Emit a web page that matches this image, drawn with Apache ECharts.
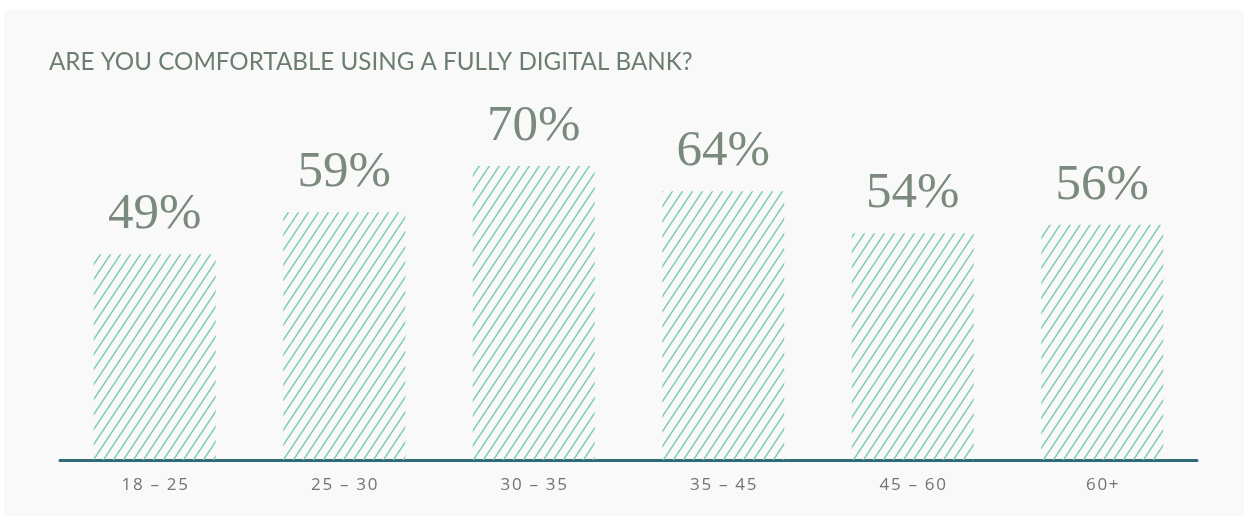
<!DOCTYPE html>
<html>
<head>
<meta charset="utf-8">
<script src="https://cdn.jsdelivr.net/npm/echarts@6/dist/echarts.min.js"></script>
<style>
  html, body { margin: 0; padding: 0; background: #ffffff; }
  #chart { width: 1249px; height: 516px; }
</style>
</head>
<body>
<div id="chart"></div>
<script>
// Age groups and share of respondents comfortable with a fully digital bank
const ageGroups = ['18 – 25', '25 – 30', '30 – 35', '35 – 45', '45 – 60', '60+'];
const comfortable = [49, 59, 70, 64, 54, 56];

// Diagonal hatch tile used to fill the bars
function hatchTile() {
  const w = 10, h = 15;
  const c = document.createElement('canvas');
  c.width = w; c.height = h;
  const ctx = c.getContext('2d');
  ctx.strokeStyle = '#7ccbb3';
  ctx.lineWidth = 1.5;
  for (let k = -1; k <= 1; k++) {
    ctx.beginPath();
    ctx.moveTo(k * w - 1, h + 1.5);
    ctx.lineTo(k * w + w + 1, -1.5);
    ctx.stroke();
  }
  return c;
}

// Spread the category text out a little
const spaced = s => s.split('').join('\u200A');

const chart = echarts.init(document.getElementById('chart'), null, { renderer: 'canvas' });

chart.setOption({
  backgroundColor: 'transparent',
  animation: false,
  graphic: [{
    type: 'rect',
    z: -10,
    silent: true,
    shape: { x: 4, y: 10, width: 1240, height: 506 },
    style: { fill: '#f9f9f9' }
  }],
  title: {
    text: 'ARE YOU COMFORTABLE USING A FULLY DIGITAL BANK?',
    left: 44,
    top: 45,
    textStyle: {
      fontFamily: 'Lato',
      fontWeight: 'normal',
      fontSize: 24.2,
      color: '#6c7e6f'
    }
  },
  grid: { left: 60, right: 52, top: 40, bottom: 56 },
  xAxis: {
    type: 'category',
    data: ageGroups,
    axisLine: { lineStyle: { color: '#2f6b77', width: 3 } },
    axisTick: { show: false },
    axisLabel: {
      margin: 17,
      fontFamily: 'Open Sans',
      fontSize: 17,
      color: '#6f766f',
      formatter: spaced
    }
  },
  yAxis: {
    type: 'value',
    min: 0,
    max: 100,
    show: false
  },
  series: [{
    type: 'bar',
    data: comfortable,
    barWidth: 122,
    itemStyle: {
      color: { image: hatchTile(), repeat: 'repeat' }
    },
    label: {
      show: true,
      position: 'top',
      distance: 14,
      formatter: '{c}%',
      fontFamily: 'Liberation Serif',
      fontSize: 51,
      color: '#7a8a7c'
    }
  }]
});
</script>
</body>
</html>
